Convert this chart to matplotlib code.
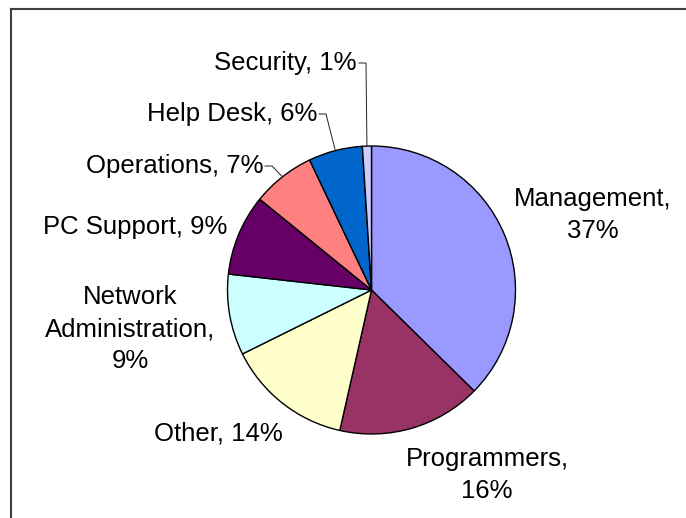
import numpy as np
import matplotlib
matplotlib.use("Agg")
import matplotlib.pyplot as plt
from matplotlib.lines import Line2D

categories = ["Management", "Programmers", "Other", "Network\nAdministration",
              "PC Support", "Operations", "Help Desk", "Security"]
values = [37, 16, 14, 9, 9, 7, 6, 1]
colors = ["#9999FF", "#993366", "#FFFFCC", "#CCFFFF", "#660066", "#FF8080", "#0066CC", "#CCCCFF"]

W, H = 686, 518
fig = plt.figure(figsize=(W / 100, H / 100), dpi=100)
ax = fig.add_axes([0, 0, 1, 1])
plt.rcParams['font.family'] = ['Liberation Sans', 'DejaVu Sans']

cx, cy, r = 371.5, H - 290, 144
ax.pie(values, colors=colors, startangle=90, counterclock=False,
       center=(cx, cy), radius=r,
       wedgeprops=dict(edgecolor="black", linewidth=1.0))
ax.set_xlim(0, W)
ax.set_ylim(0, H)
ax.set_aspect("equal")
ax.axis("off")

fs = 18.5
ls = 1.42
def lbl(i):
    return f"{categories[i]}, {values[i]}%"

# labels without leader lines (pixel positions, y from top)
ax.text(593, H - 215, "Management,\n37%", fontsize=fs, ha="center", va="center", linespacing=ls)
ax.text(487, H - 475, "Programmers,\n16%", fontsize=fs, ha="center", va="center", linespacing=ls)
ax.text(218, H - 433, lbl(2), fontsize=fs, ha="center", va="center")
ax.text(130, H - 329, "Network\nAdministration,\n9%", fontsize=fs, ha="center", va="center", linespacing=ls)
ax.text(135, H - 227, lbl(4), fontsize=fs, ha="center", va="center")

# labels with leader lines
total = sum(values)
cum = np.cumsum([0] + values)
def edge_point(i):
    mid = (cum[i] + values[i] * 0.5) / total * 360
    ang = np.deg2rad(90 - mid)
    return cx + r * np.cos(ang), cy + r * np.sin(ang)

leaders = [(5, 263, 166), (6, 317, 114), (7, 357, 63)]
for i, xr, yl in leaders:
    ax.text(xr, H - yl, lbl(i), fontsize=fs, ha="right", va="center")
    ex, ey = edge_point(i)
    ax.plot([xr + 2, xr + 9, ex], [H - yl, H - yl, ey], color="#202020", lw=0.7)

# chart area border (cropped on right and bottom)
fig.add_artist(Line2D([10.5 / W, 10.5 / W], [0, 1 - 8.5 / H], color="#404040", lw=1.5,
                      transform=fig.transFigure))
fig.add_artist(Line2D([10.5 / W, 1], [1 - 8.5 / H, 1 - 8.5 / H], color="#404040", lw=1.5,
                      transform=fig.transFigure))

fig.savefig("out.png", dpi=100, facecolor="white")
